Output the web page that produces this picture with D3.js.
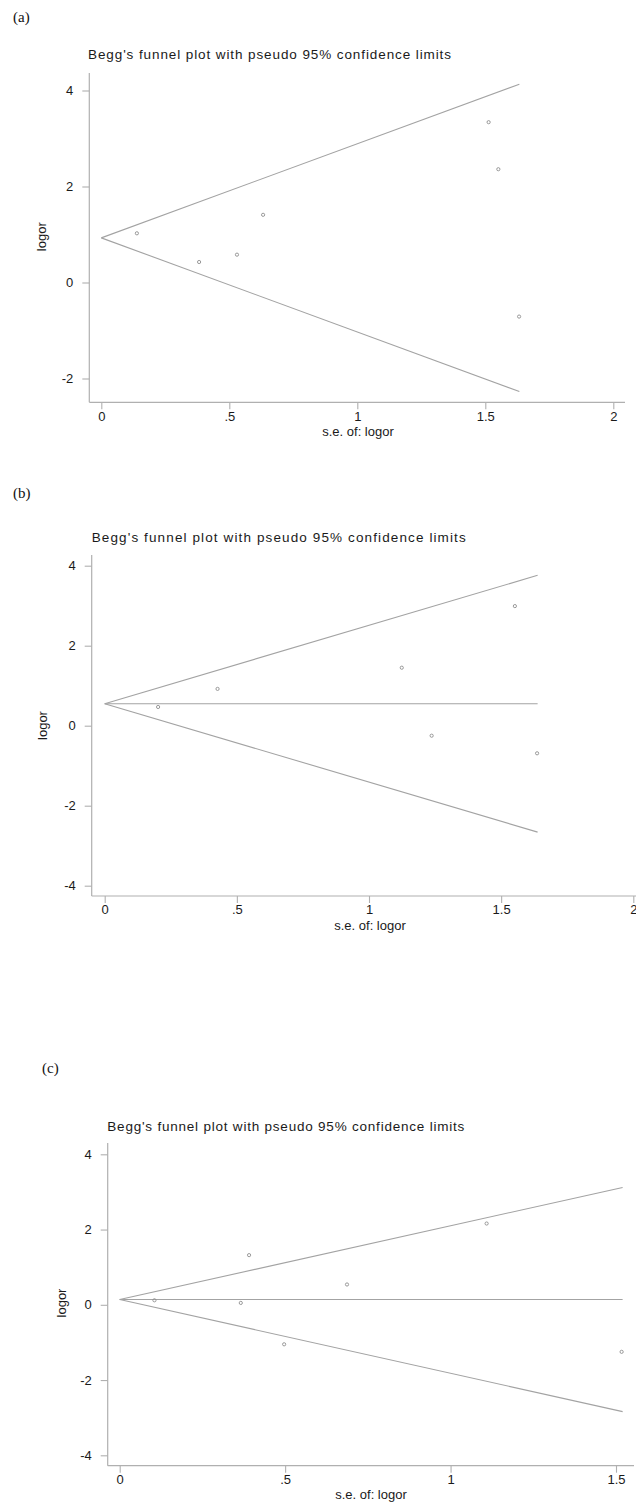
<!DOCTYPE html>
<html><head><meta charset="utf-8">
<script src="https://cdn.jsdelivr.net/npm/d3@7/dist/d3.min.js"></script>
<style>
html,body{margin:0;padding:0;background:#fff;}
svg{display:block;}
</style></head>
<body>
<script>
// ---------- data ----------
const panelLabels = ["(a)", "(b)", "(c)"];
const titleText = "Begg's funnel plot with pseudo 95% confidence limits";
const xAxisTitle = "s.e. of: logor";
const yAxisTitle = "logor";

// panel (a)
const seA     = [0.139, 0.382, 0.530, 0.632, 1.513, 1.551, 1.632];
const logorA  = [1.025, 0.427, 0.580, 1.410, 3.340, 2.360, -0.710];
const pooledA = 0.93;
const seMaxA  = 1.633;
const showPooledA = false;
const xTicksA = [0, 0.5, 1, 1.5, 2];
const yTicksA = [-2, 0, 2, 4];

// panel (b)
const seB     = [0.202, 0.427, 1.124, 1.237, 1.552, 1.636];
const logorB  = [0.468, 0.920, 1.450, -0.250, 2.990, -0.690];
const pooledB = 0.55;
const seMaxB  = 1.638;
const showPooledB = true;
const xTicksB = [0, 0.5, 1, 1.5, 2];
const yTicksB = [-4, -2, 0, 2, 4];

// panel (c)
const seC     = [0.105, 0.366, 0.391, 0.497, 0.687, 1.109, 1.517];
const logorC  = [0.120, 0.050, 1.320, -1.050, 0.540, 2.160, -1.250];
const pooledC = 0.14;
const seMaxC  = 1.52;
const showPooledC = true;
const xTicksC = [0, 0.5, 1, 1.5];
const yTicksC = [-4, -2, 0, 2, 4];

const z95 = 1.96;
const fmtTick = v => (v > 0 && v < 1) ? String(v).replace(/^0/, "") : String(v);

// ---------- layout (pixel geometry, not data) ----------
const layouts = [
  { se: seA, lg: logorA, pooled: pooledA, seMax: seMaxA, pooledLine: showPooledA, xt: xTicksA, yt: yTicksA,
    xDom: [0, 2], xRng: [101.3, 613.3], yDom: [-2, 4], yRng: [378.5, 90.5],
    axX: 89.3, axTop: 73, axY: 402.3, axRight: 625,
    lab: [13, 21.5], title: [88, 59.3, 363], ylab: [41.5, 236.7], xlab: [358, 436] },
  { se: seB, lg: logorB, pooled: pooledB, seMax: seMaxB, pooledLine: showPooledB, xt: xTicksB, yt: yTicksB,
    xDom: [0, 2], xRng: [104.7, 633.3], yDom: [-4, 4], yRng: [885.7, 565.7],
    axX: 91.7, axTop: 555, axY: 896, axRight: 636,
    lab: [13, 498], title: [91.7, 541.7, 374], ylab: [42, 725.5], xlab: [370, 930] },
  { se: seC, lg: logorC, pooled: pooledC, seMax: seMaxC, pooledLine: showPooledC, xt: xTicksC, yt: yTicksC,
    xDom: [0, 1.5], xRng: [119.7, 616], yDom: [-4, 4], yRng: [1455.3, 1154.3],
    axX: 107.7, axTop: 1143, axY: 1465.7, axRight: 634,
    lab: [42, 1073], title: [107.3, 1130.7, 357], ylab: [61.7, 1303], xlab: [371, 1498.5] }
];

const W = 636, H = 1502;
const svg = d3.select("body").append("svg").attr("width", W).attr("height", H);

const lineCol = "#a3a3a3", axisCol = "#b0b0b0", textCol = "#1a1a1a";
const sans = "'Liberation Sans', Arial, Helvetica, sans-serif";

layouts.forEach((p, i) => {
  const g = svg.append("g");
  const x = d3.scaleLinear().domain(p.xDom).range(p.xRng);
  const y = d3.scaleLinear().domain(p.yDom).range(p.yRng);

  // panel label
  g.append("text").attr("x", p.lab[0]).attr("y", p.lab[1])
    .attr("font-family", "'Liberation Serif', 'Times New Roman', serif")
    .attr("font-size", 15).attr("fill", "#111").text(panelLabels[i]);

  // title
  g.append("text").attr("x", p.title[0]).attr("y", p.title[1])
    .attr("font-family", sans).attr("font-size", 13.5).attr("fill", textCol)
    .attr("textLength", p.title[2]).attr("lengthAdjust", "spacing")
    .text(titleText);

  // axis lines
  g.append("line").attr("x1", p.axX).attr("x2", p.axX).attr("y1", p.axTop).attr("y2", p.axY)
    .attr("stroke", axisCol).attr("stroke-width", 1.2);
  g.append("line").attr("x1", p.axX).attr("x2", p.axRight).attr("y1", p.axY).attr("y2", p.axY)
    .attr("stroke", axisCol).attr("stroke-width", 1.2);

  // y axis ticks
  const ya = g.append("g").attr("transform", `translate(${p.axX},0)`)
    .call(d3.axisLeft(y).tickValues(p.yt).tickSize(7).tickPadding(9).tickFormat(d => String(d)));
  ya.select(".domain").remove();
  ya.selectAll("line").attr("stroke", axisCol).attr("stroke-width", 1.1);
  ya.selectAll("text").attr("font-family", sans).attr("font-size", 13).attr("fill", textCol);

  // x axis ticks
  const xa = g.append("g").attr("transform", `translate(0,${p.axY})`)
    .call(d3.axisBottom(x).tickValues(p.xt).tickSize(7).tickPadding(2).tickFormat(fmtTick));
  xa.select(".domain").remove();
  xa.selectAll("line").attr("stroke", axisCol).attr("stroke-width", 1.1);
  xa.selectAll("text").attr("font-family", sans).attr("font-size", 13).attr("fill", textCol);

  // axis titles
  g.append("text").attr("transform", `translate(${p.ylab[0]},${p.ylab[1]}) rotate(-90)`)
    .attr("text-anchor", "middle").attr("dominant-baseline", "central")
    .attr("font-family", sans).attr("font-size", 13).attr("fill", textCol).text(yAxisTitle);
  g.append("text").attr("x", p.xlab[0]).attr("y", p.xlab[1])
    .attr("text-anchor", "middle")
    .attr("font-family", sans).attr("font-size", 13).attr("fill", textCol).text(xAxisTitle);

  // funnel limits
  const upper = [[0, p.pooled], [p.seMax, p.pooled + z95 * p.seMax]];
  const lower = [[0, p.pooled], [p.seMax, p.pooled - z95 * p.seMax]];
  const ln = d3.line().x(d => x(d[0])).y(d => y(d[1]));
  [upper, lower].forEach(l => g.append("path").attr("d", ln(l))
    .attr("fill", "none").attr("stroke", lineCol).attr("stroke-width", 1.1));
  if (p.pooledLine) {
    g.append("path").attr("d", ln([[0, p.pooled], [p.seMax, p.pooled]]))
      .attr("fill", "none").attr("stroke", lineCol).attr("stroke-width", 1.1);
  }

  // study points
  g.selectAll("circle.pt").data(p.se.map((s, k) => [s, p.lg[k]])).enter()
    .append("circle").attr("class", "pt")
    .attr("cx", d => x(d[0])).attr("cy", d => y(d[1])).attr("r", 1.6)
    .attr("fill", "none").attr("stroke", "#8f8f8f").attr("stroke-width", 0.9);
});
</script>
</body></html>
